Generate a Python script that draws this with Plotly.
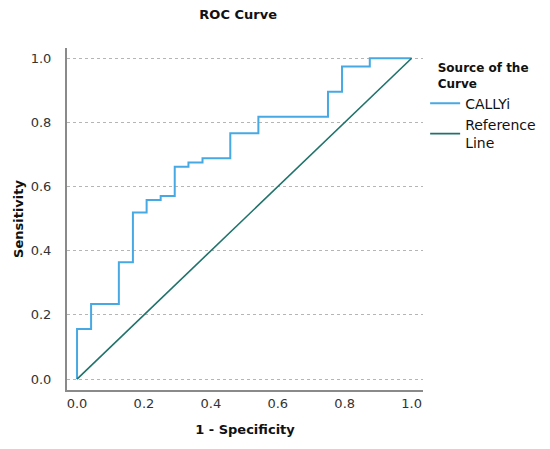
#!/usr/bin/env python3
import plotly.graph_objects as go

# ROC steps (1 - specificity, sensitivity)
fpr = [0.0, 0.0, 0.042, 0.042, 0.125, 0.125, 0.167, 0.167, 0.208, 0.208,
       0.25, 0.25, 0.292, 0.292, 0.333, 0.333, 0.375, 0.375, 0.458, 0.458,
       0.542, 0.542, 0.75, 0.75, 0.792, 0.792, 0.875, 0.875, 1.0]
tpr = [0.0, 0.156, 0.156, 0.234, 0.234, 0.364, 0.364, 0.519, 0.519, 0.558,
       0.558, 0.571, 0.571, 0.662, 0.662, 0.675, 0.675, 0.688, 0.688, 0.766,
       0.766, 0.818, 0.818, 0.896, 0.896, 0.974, 0.974, 1.0, 1.0]
ref_x = [0.0, 1.0]
ref_y = [0.0, 1.0]
tick_vals = [0.0, 0.2, 0.4, 0.6, 0.8, 1.0]
tick_text = ['0.0', '0.2', '0.4', '0.6', '0.8', '1.0']

FONT = 'DejaVu Sans'

fig = go.Figure()

fig.add_trace(go.Scatter(x=fpr, y=tpr, mode='lines', name='CALLYi',
                         line=dict(color='#47a9e3', width=2)))
fig.add_trace(go.Scatter(x=ref_x, y=ref_y, mode='lines', name='Reference<br>Line',
                         line=dict(color='#20736b', width=1.6)))

fig.update_layout(
    width=550, height=449,
    # no autoexpand: keep the legend from squeezing the plot area
    margin=dict(l=67, r=127, t=48, b=59, autoexpand=False),
    paper_bgcolor='white', plot_bgcolor='white',
    font=dict(family=FONT, size=12, color='#222'),
    title=dict(text='<b>ROC Curve</b>', x=0.433, xanchor='center',
               y=0.968, yanchor='middle', font=dict(size=13, color='#111')),
    legend=dict(
        title=dict(text='<b>Source of the<br>Curve</b>', side='top center',
                   font=dict(size=12, color='#111')),
        x=1.006, xanchor='left', y=0.975, yanchor='top',
        font=dict(size=14, color='#111'),
        tracegroupgap=0, itemwidth=30,
        bgcolor='rgba(0,0,0,0)',
    ),
    xaxis=dict(
        range=[-0.03, 1.034], tickvals=tick_vals, ticktext=tick_text,
        showgrid=False, zeroline=False,
        showline=True, linecolor='#8a8a8a', linewidth=2,
        ticks='', ticklen=0, ticklabelstandoff=0,
        title=dict(text='<b>1 - Specificity</b>', font=dict(size=13, color='#111'),
                   standoff=15),
        tickfont=dict(size=13, color='#333'),
    ),
    yaxis=dict(
        range=[-0.034, 1.032], tickvals=tick_vals, ticktext=tick_text,
        showgrid=True, gridcolor='#b5b5b5', griddash='dot', gridwidth=1,
        zeroline=False,
        showline=True, linecolor='#8a8a8a', linewidth=2,
        ticks='', ticklen=0, ticklabelstandoff=11,
        title=dict(text='<b>Sensitivity</b>', font=dict(size=13, color='#111'),
                   standoff=4),
        tickfont=dict(size=13, color='#333'),
    ),
)

# drop the default 8px page margin so the figure fills the window exactly
fig.write_html("out.html", config={'displayModeBar': False},
               post_script="document.body.style.margin='0';")
